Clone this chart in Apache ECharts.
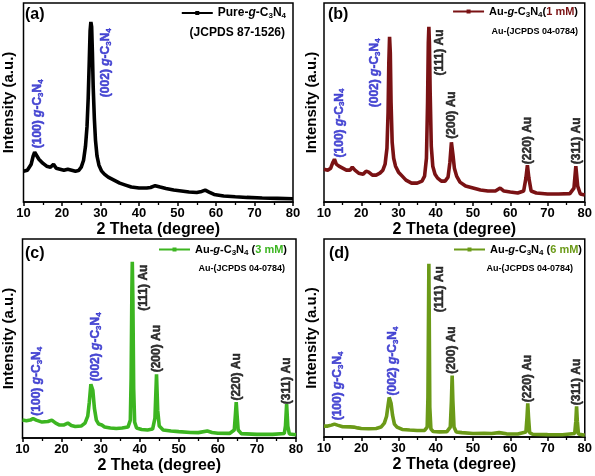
<!DOCTYPE html>
<html><head><meta charset="utf-8">
<script src="https://cdn.jsdelivr.net/npm/echarts@6/dist/echarts.min.js"></script>
<style>html,body{margin:0;padding:0;background:#fff}#c{width:595px;height:476px}</style>
</head><body><div id="c"></div>
<script>
// ---- data (2θ in degrees, intensity in arbitrary units 0-100) ----
const xTicks = [10, 20, 30, 40, 50, 60, 70, 80];
const pureData = [[10,15.5],[10.5,15.5],[11,16],[11.5,17],[12,19],[12.5,23],[12.9,25],[13.3,24],[14,21.5],[15,19.5],[16,18],[17,17.5],[17.8,19],[18.5,17],[19.5,16.5],[20.5,16],[21.5,16.5],[22.5,16],[23.5,15.5],[24.3,15.8],[25,17.5],[25.6,21],[26.1,28],[26.5,38],[26.8,52],[27.1,72],[27.3,86],[27.5,90.5],[27.7,88],[27.9,75],[28.1,58],[28.4,42],[28.7,31],[29.1,23],[29.6,18.5],[30.3,15.5],[31,14],[32,12.5],[33,11.5],[34,10.5],[35,9.5],[36.5,8.5],[38,7.5],[40,7],[42,7],[43,7.3],[44.2,8.2],[45.5,7.5],[47,6.8],[49,6],[51,5.5],[53,5],[55,4.8],[56.3,5.3],[57.2,6],[58.2,5],[59.5,3.8],[62,3],[65,2.6],[68,2.3],[72,2],[76,1.8],[80,1.6]];
const au1Data = [[10,16.5],[11,16],[11.8,17],[12.4,20],[12.8,21.5],[13.3,19],[14,18],[15,17],[16,16],[17,16],[17.6,17.5],[18.3,16],[19.3,14.5],[20.5,14],[21.3,15.5],[22,15],[23,13.5],[24,13.5],[25,14.5],[25.8,16],[26.4,19],[26.9,27],[27.2,45],[27.4,70],[27.6,83],[27.8,75],[28,50],[28.3,30],[28.7,22],[29.2,18],[30,15],[31,13],[32,11],[33.5,9.5],[35,9.5],[36.3,10.5],[37,13],[37.5,22],[37.8,50],[38,80],[38.15,88],[38.3,80],[38.5,55],[38.8,28],[39.2,18],[39.8,14],[40.5,12],[41.5,10.5],[42.5,10.5],[43.3,12.5],[43.8,20],[44.2,30],[44.6,24],[45,17],[45.6,13],[46.5,10],[48,8],[50,7],[52,6],[54,5.5],[56,5.5],[57.3,7],[58.3,5.5],[60,5],[62,4.5],[63.6,5.5],[64.2,12],[64.6,18.5],[65,12],[65.6,5.5],[67,4.5],[70,4],[73,4],[76,4.2],[77.1,7],[77.6,18],[78.1,8],[78.8,4],[80,3.5]];
const au3Data = [[10,9],[11,8.7],[12,9],[12.7,9.8],[13.5,9],[15,8],[16.5,8.3],[17.5,9],[18.5,7.5],[19.5,6.5],[20.5,6.5],[21.6,7.5],[22.5,6.3],[23.5,5.8],[25,6],[26,7.5],[26.7,11],[27.1,18],[27.5,27],[27.7,28],[28,24],[28.4,15],[28.9,9],[29.5,7],[30.3,6.5],[31,5.5],[32.5,5],[34,4.8],[35.5,5],[37,5.5],[37.6,9],[37.8,30],[38,75],[38.1,88.5],[38.25,70],[38.45,25],[38.7,8],[39.2,5],[40.5,4.3],[42,4],[43.3,4.5],[43.9,10],[44.3,32],[44.6,14],[45,6],[46,4],[48,3.5],[50,3.2],[53,2.8],[55,2.7],[57.3,3.5],[58.5,2.8],[60,2.4],[63,2.3],[64.2,4],[64.5,12],[64.7,18],[64.9,12],[65.2,4],[66,2.2],[70,1.8],[74,1.8],[77,2.3],[77.3,6],[77.6,17],[77.9,6],[78.3,2],[80,1.6]];
const au6Data = [[10,5.5],[11,5.5],[12,6],[12.8,6.5],[13.6,6],[15,5.2],[17,5.1],[18,5],[19,4.6],[20,4.3],[22,4.2],[24,4.3],[25.3,5],[26.2,7],[26.8,10.5],[27.2,16],[27.5,20],[27.7,20],[28,17],[28.4,11],[28.9,6.5],[29.6,5],[31,3.8],[33,3.5],[35,3.3],[37,3.3],[37.7,5],[37.9,20],[38.05,60],[38.15,87.5],[38.25,60],[38.4,15],[38.7,4],[39.3,2.8],[41,2.6],[43,2.7],[43.9,5],[44.2,18],[44.4,31],[44.6,18],[44.9,5],[45.5,2.5],[47,2.2],[50,1.8],[53,1.9],[55,1.8],[57,2.2],[59,1.6],[62,1.5],[64.2,2.5],[64.5,10],[64.7,17],[64.9,10],[65.2,2.2],[66,1.4],[70,1.2],[74,1.1],[77.3,1.8],[77.6,8],[77.8,15.5],[78,8],[78.3,1.5],[80,0.9]];
// peak annotations: [2θ, intensity where text starts, plane, phase]
const annA = [[13.7,27,'(100)','g'],[31.3,52.7,'(002)','g']];
const annB = [[14.1,22.4,'(100)','g'],[23.7,47.6,'(002)','g'],[41,63.6,'(111)','Au'],[44.4,31.8,'(200)','Au'],[64.8,19,'(220)','Au'],[77.8,19,'(311)','Au']];
const annC = [[13.6,11.2,'(100)','g'],[28.7,28.5,'(002)','g'],[41,64,'(111)','Au'],[44.4,33,'(200)','Au'],[64.7,18.8,'(220)','Au'],[77.7,17,'(311)','Au']];
const annD = [[13.6,8.4,'(100)','g'],[28.5,21,'(002)','g'],[41.1,63,'(111)','Au'],[44.3,32,'(200)','Au'],[64.7,17.6,'(220)','Au'],[77.8,16,'(311)','Au']];
const seriesNames = ['Pure-g-C3N4','Au-g-C3N4 (1 mM)','Au-g-C3N4 (3 mM)','Au-g-C3N4 (6 mM)'];
const seriesColors = ['#000000','#7a1214','#3cb521','#6b9a18'];
const panelLabels = ['(a)','(b)','(c)','(d)'];

const FF = '"Liberation Sans", Arial, sans-serif';
const BLUE = '#1e1ec8';
const grids = [
  {left:21, top:3, width:272, height:199},
  {left:324, top:3, width:261, height:199},
  {left:20, top:239, width:276, height:199},
  {left:324, top:239, width:263, height:198}
];
const yNameGap = [7.5, 4.5, 6.5, 4.5];
const datasets = [pureData, au1Data, au3Data, au6Data];
const anns = [annA, annB, annC, annD];

const annRich = {
  gb:{fontSize:12, fontWeight:'bold', color:BLUE, fontFamily:FF, lineHeight:14, verticalAlign:'middle', textBorderColor:BLUE, textBorderWidth:0.5},
  gi:{fontSize:12, fontWeight:'bold', fontStyle:'italic', color:BLUE, fontFamily:FF, lineHeight:14, verticalAlign:'middle', textBorderColor:BLUE, textBorderWidth:0.5},
  gs:{fontSize:8, fontWeight:'bold', color:BLUE, fontFamily:FF, lineHeight:9, verticalAlign:'bottom', textBorderColor:BLUE, textBorderWidth:0.4},
  k:{fontSize:12, fontWeight:'bold', color:'#000', fontFamily:FF, lineHeight:14, verticalAlign:'middle', textBorderColor:'#000', textBorderWidth:0.5}
};

const option = {
  animation:false,
  backgroundColor:'#fff',
  grid: grids.map(g => Object.assign({show:true, borderColor:'#000', borderWidth:1.5, backgroundColor:'transparent'}, g)),
  xAxis: grids.map((g,i) => ({
    gridIndex:i, type:'value', min:xTicks[0], max:xTicks[xTicks.length-1], interval:xTicks[1]-xTicks[0],
    name:'2 Theta (degree)', nameLocation:'middle', nameGap:20,
    nameTextStyle:{fontSize:16, fontWeight:'bold', color:'#000', fontFamily:FF},
    axisLine:{show:true, lineStyle:{color:'#000', width:1.5}},
    axisTick:{show:true, inside:false, length:4, lineStyle:{color:'#000', width:1.5}},
    minorTick:{show:true, splitNumber:2, length:3, lineStyle:{color:'#000', width:1.3}},
    axisLabel:{fontSize:13, fontWeight:'bold', color:'#000', margin:5, fontFamily:FF},
    splitLine:{show:false}
  })),
  yAxis: grids.map((g,i) => ({
    gridIndex:i, type:'value', min:0, max:100,
    name:'Intensity (a.u.)', nameLocation:'middle', nameGap:yNameGap[i],
    nameTextStyle:{fontSize:15, fontWeight:'bold', color:'#000', fontFamily:FF},
    axisLine:{show:false}, axisTick:{show:false}, axisLabel:{show:false}, splitLine:{show:false}
  })),
  legend: [
    {right:309, top:7},
    {right:17, top:6},
    {right:308, top:244},
    {right:13, top:244}
  ].map((p,i) => Object.assign({
    data:[seriesNames[i]], padding:0, itemWidth:31, itemHeight:5, itemGap:4,
    lineStyle:{width:2},
    formatter: function(name){
      if (i === 0) return '{t|Pure-}{ti|g}{t|-C}{s|3}{t|N}{s|4}';
      const conc = ['','1 mM','3 mM','6 mM'][i];
      const sp = i === 1 ? '' : ' ';
      return '{t|Au-}{ti|g}{t|-C}{s|3}{t|N}{s|4}{t|' + sp + '(}{c|' + conc + '}{t|)}';
    },
    textStyle:{
      fontFamily:FF, fontWeight:'bold', fontSize: i===0 ? 12 : 11, color:'#000',
      rich:{
        t:{fontSize: i===0 ? 12 : 11, fontWeight:'bold', color:'#000', fontFamily:FF, lineHeight:14, verticalAlign:'middle'},
        ti:{fontSize: i===0 ? 12 : 11, fontWeight:'bold', fontStyle:'italic', color:'#000', fontFamily:FF, lineHeight:14, verticalAlign:'middle'},
        s:{fontSize:8, fontWeight:'bold', color:'#000', fontFamily:FF, lineHeight:9, verticalAlign:'bottom'},
        c:{fontSize: i===0 ? 12 : 11, fontWeight:'bold', color:seriesColors[i], fontFamily:FF, lineHeight:14, verticalAlign:'middle'}
      }
    }
  }, p)),
  graphic: [
    {type:'text', x:285, y:33, style:{text:'(JCPDS 87-1526)', font:'bold 12px '+FF, fill:'#000', textAlign:'right', textVerticalAlign:'middle', align:'right', verticalAlign:'middle'}},
    {type:'text', x:578, y:32, style:{text:'Au-(JCPDS 04-0784)', font:'bold 9px '+FF, fill:'#000', textAlign:'right', textVerticalAlign:'middle', align:'right', verticalAlign:'middle'}},
    {type:'text', x:285, y:269, style:{text:'Au-(JCPDS 04-0784)', font:'bold 9px '+FF, fill:'#000', textAlign:'right', textVerticalAlign:'middle', align:'right', verticalAlign:'middle'}},
    {type:'text', x:573, y:269, style:{text:'Au-(JCPDS 04-0784)', font:'bold 9px '+FF, fill:'#000', textAlign:'right', textVerticalAlign:'middle', align:'right', verticalAlign:'middle'}},
    {type:'text', x:25, y:15, style:{text:panelLabels[0], font:'bold 16px '+FF, fill:'#000', textVerticalAlign:'middle', verticalAlign:'middle'}},
    {type:'text', x:328, y:15, style:{text:panelLabels[1], font:'bold 16px '+FF, fill:'#000', textVerticalAlign:'middle', verticalAlign:'middle'}},
    {type:'text', x:25, y:254, style:{text:panelLabels[2], font:'bold 16px '+FF, fill:'#000', textVerticalAlign:'middle', verticalAlign:'middle'}},
    {type:'text', x:329, y:254, style:{text:panelLabels[3], font:'bold 16px '+FF, fill:'#000', textVerticalAlign:'middle', verticalAlign:'middle'}}
  ],
  series: []
};

datasets.forEach((d,i) => {
  option.series.push({
    name:seriesNames[i], type:'line', xAxisIndex:i, yAxisIndex:i, data:d,
    showSymbol:false, symbol:'rect', symbolSize:4,
    lineStyle:{color:seriesColors[i], width:3.6}, itemStyle:{color:seriesColors[i]},
    z:2
  });
});
anns.forEach((a,i) => {
  option.series.push({
    name:'ann'+i, type:'scatter', xAxisIndex:i, yAxisIndex:i, symbolSize:0, z:5, silent:true,
    data:a.map(r => ({value:[r[0], r[1]], hkl:r[2], ph:r[3]})),
    label:{
      show:true, position:'inside', rotate:90, align:'left', verticalAlign:'middle', distance:0,
      fontSize:12, fontWeight:'bold', fontFamily:FF, color:'#000',
      formatter: function(p){
        if (p.data.ph === 'g') return '{gb|' + p.data.hkl + ' }{gi|g}{gb|-C}{gs|3}{gb|N}{gs|4}';
        return '{k|' + p.data.hkl + ' Au}';
      },
      rich: annRich
    }
  });
});

const chart = echarts.init(document.getElementById('c'), null, {renderer:'canvas'});
chart.setOption(option);
</script>
</body></html>
